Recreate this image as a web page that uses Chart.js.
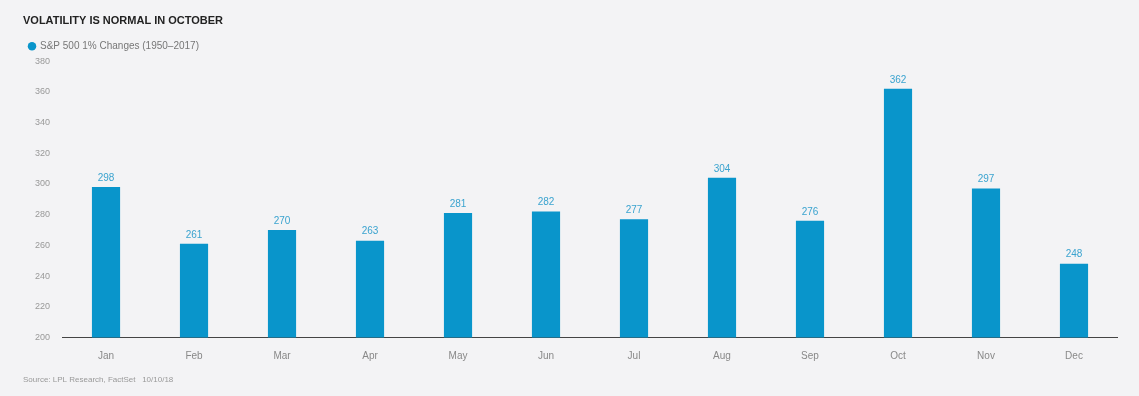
<!DOCTYPE html>
<html>
<head>
<meta charset="utf-8">
<script src="https://cdn.jsdelivr.net/npm/chart.js@4/dist/chart.umd.min.js"></script>
<style>
  html, body { margin: 0; padding: 0; background: #f3f3f5; }
  #wrap { width: 1139px; height: 396px; position: relative; }
</style>
</head>
<body>
<div id="wrap"><canvas id="chart"></canvas></div>
<script>
const months = ['Jan', 'Feb', 'Mar', 'Apr', 'May', 'Jun', 'Jul', 'Aug', 'Sep', 'Oct', 'Nov', 'Dec'];
const changes = [298, 261, 270, 263, 281, 282, 277, 304, 276, 362, 297, 248];
const seriesName = 'S&P 500 1% Changes (1950\u20132017)';
const chartTitle = 'VOLATILITY IS NORMAL IN OCTOBER';
const sourceNote = 'Source: LPL Research, FactSet   10/10/18';

const barBlue = '#0995cb';

// values on top of each bar
const valueLabels = {
  id: 'valueLabels',
  afterDatasetsDraw(chart) {
    const ctx = chart.ctx;
    const meta = chart.getDatasetMeta(0);
    ctx.save();
    ctx.font = '10px "Liberation Sans", Arial, sans-serif';
    ctx.fillStyle = '#3aa3cf';
    ctx.textAlign = 'center';
    ctx.textBaseline = 'bottom';
    meta.data.forEach((bar, i) => {
      ctx.fillText(changes[i], bar.x, bar.y - 4);
    });
    ctx.restore();
  }
};

new Chart(document.getElementById('chart'), {
  type: 'bar',
  data: {
    labels: months,
    datasets: [{
      label: seriesName,
      data: changes,
      backgroundColor: barBlue,
      barPercentage: 0.64,
      categoryPercentage: 0.5
    }]
  },
  options: {
    responsive: true,
    maintainAspectRatio: false,
    animation: false,
    layout: { padding: { left: 23, right: 21, top: 6, bottom: 3 } },
    plugins: {
      title: {
        display: true,
        text: chartTitle,
        align: 'start',
        color: '#222',
        font: { family: '"Liberation Sans", Arial, sans-serif', size: 11, weight: 'bold' },
        padding: { top: 8, bottom: 8 }
      },
      legend: {
        display: true,
        align: 'start',
        labels: {
          usePointStyle: true,
          pointStyle: 'circle',
          boxWidth: 6,
          boxHeight: 6,
          color: '#777',
          padding: 6,
          font: { family: '"Liberation Sans", Arial, sans-serif', size: 10 }
        }
      },
      subtitle: {
        display: true,
        position: 'bottom',
        align: 'start',
        text: sourceNote,
        color: '#999',
        font: { family: '"Liberation Sans", Arial, sans-serif', size: 8 },
        padding: { top: 0, bottom: 8 }
      },
      tooltip: { enabled: false }
    },
    scales: {
      x: {
        grid: { display: false, drawTicks: false },
        border: { display: false },
        ticks: {
          color: '#888',
          padding: 13,
          font: { family: '"Liberation Sans", Arial, sans-serif', size: 10 }
        }
      },
      y: {
        min: 200,
        max: 380,
        ticks: {
          stepSize: 20,
          color: '#999',
          padding: 12,
          font: { family: '"Liberation Sans", Arial, sans-serif', size: 9 }
        },
        grid: {
          drawTicks: false,
          color: (c) => c.tick.value === 200 ? '#444' : 'rgba(0,0,0,0)'
        },
        border: { display: false }
      }
    }
  },
  plugins: [valueLabels]
});
</script>
</body>
</html>
